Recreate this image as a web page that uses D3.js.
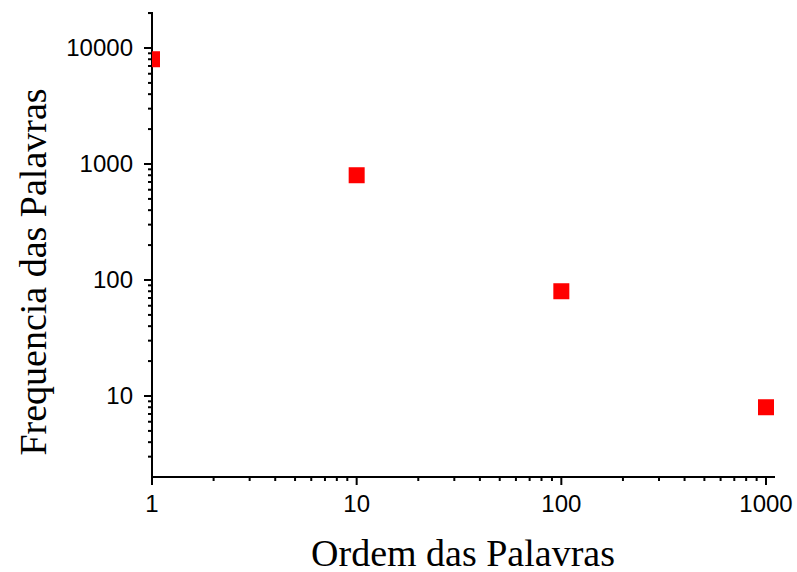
<!DOCTYPE HTML>
<html>
<head>
<meta charset="utf-8">
<title>Zipf</title>
<script src="https://d3js.org/d3.v7.min.js"></script>
<style>
  body { margin: 0; background: #fff; }
</style>
</head>
<body>
<script>
"use strict";

const ordem = [1, 10, 100, 1000];
const frequencia = [8000, 800, 80, 8];
const xTicks = [1, 10, 100, 1000];
const yTicks = [10, 100, 1000, 10000];

const svg = d3.select("body").append("svg")
  .attr("width", 797)
  .attr("height", 572);

const x = d3.scaleLog().domain([1, 1000]).range([152, 766]);
const y = d3.scaleLog().domain([10, 10000]).range([396, 48]);

const plotLeft = 152, plotBottom = 477, plotTop = 13, plotRight = 775;
const xMax = x.invert(plotRight), yMin = y.invert(plotBottom), yMax = y.invert(plotTop);

svg.append("clipPath").attr("id", "plot")
  .append("rect")
  .attr("x", plotLeft).attr("y", plotTop)
  .attr("width", plotRight - plotLeft).attr("height", plotBottom - plotTop);

// minor ticks
const xMinor = [];
for (let d = 1; d <= 1000; d *= 10)
  for (let k = 2; k <= 9; k++) if (d * k <= xMax) xMinor.push(d * k);
const yMinor = [];
for (let d = 1; d <= 10000; d *= 10)
  for (let k = 2; k <= 9; k++) if (d * k >= yMin && d * k <= yMax) yMinor.push(d * k);

const axes = svg.append("g").attr("stroke", "#000").attr("stroke-width", 2);

axes.selectAll(".xmin").data(xMinor).enter().append("line")
  .attr("x1", d => x(d)).attr("x2", d => x(d))
  .attr("y1", plotBottom).attr("y2", plotBottom + 4);
axes.selectAll(".xmaj").data(xTicks).enter().append("line")
  .attr("x1", d => x(d)).attr("x2", d => x(d))
  .attr("y1", plotBottom).attr("y2", plotBottom + 8);
axes.selectAll(".ymin").data(yMinor).enter().append("line")
  .attr("y1", d => y(d)).attr("y2", d => y(d))
  .attr("x1", plotLeft).attr("x2", plotLeft - 4);
axes.selectAll(".ymaj").data(yTicks).enter().append("line")
  .attr("y1", d => y(d)).attr("y2", d => y(d))
  .attr("x1", plotLeft).attr("x2", plotLeft - 8);

axes.append("path")
  .attr("fill", "none")
  .attr("d", "M" + (plotLeft - 4) + "," + plotTop + "H" + plotLeft + "V" + plotBottom + "H" + plotRight);

svg.append("g").selectAll("text")
  .data(xTicks).enter().append("text")
  .attr("x", d => x(d)).attr("y", 512)
  .attr("text-anchor", "middle")
  .attr("font-family", "Liberation Sans, Arial, sans-serif")
  .attr("font-size", 24)
  .text(d => d);

svg.append("g").selectAll("text")
  .data(yTicks).enter().append("text")
  .attr("x", 133).attr("y", d => y(d) + 8)
  .attr("text-anchor", "end")
  .attr("font-family", "Liberation Sans, Arial, sans-serif")
  .attr("font-size", 24)
  .text(d => d);

svg.append("text")
  .attr("x", 463).attr("y", 566)
  .attr("text-anchor", "middle")
  .attr("font-family", "Liberation Serif, Times New Roman, serif")
  .attr("font-size", 38)
  .text("Ordem das Palavras");

svg.append("text")
  .attr("transform", "translate(46,272) rotate(-90)")
  .attr("text-anchor", "middle")
  .attr("font-family", "Liberation Serif, Times New Roman, serif")
  .attr("font-size", 38)
  .text("Frequencia das Palavras");

svg.append("g").attr("clip-path", "url(#plot)")
  .selectAll("rect")
  .data(ordem.map((o, i) => ({ o: o, f: frequencia[i] })))
  .enter().append("rect")
  .attr("x", d => x(d.o) - 8).attr("y", d => y(d.f) - 8)
  .attr("width", 16).attr("height", 16)
  .attr("fill", "#ff0000");
</script>
</body>
</html>
